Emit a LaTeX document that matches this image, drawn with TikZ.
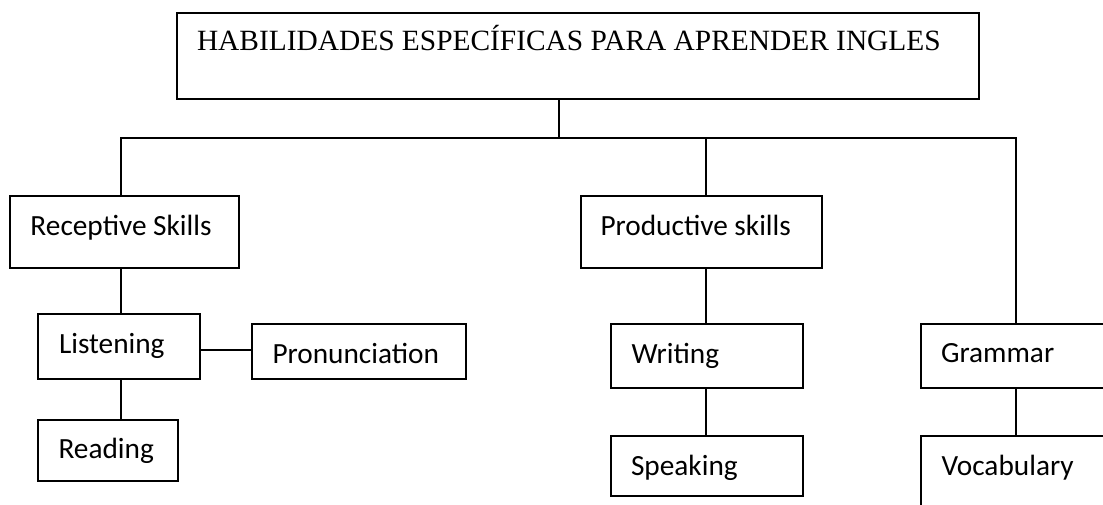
\documentclass[tikz,border=0pt]{standalone}
\usepackage{fontspec}
\setmainfont{Liberation Serif}
\newfontfamily\calibrifont{Carlito}
\begin{document}
\begin{tikzpicture}[x=1pt,y=-1pt,
  box/.style={draw=black, line width=1.4pt, rectangle, inner sep=0pt, outer sep=0pt, anchor=north west},
  lbl/.style={anchor=base west, inner sep=0pt, outer sep=0pt, font=\calibrifont\fontsize{29.3}{34}\selectfont, text=black},
  ttl/.style={anchor=base west, inner sep=0pt, outer sep=0pt, font=\fontsize{29.4}{34}\selectfont, text=black},
  conn/.style={draw=black, line width=1.4pt}]
\useasboundingbox (0,0) rectangle (1103,504);
\clip (0,0) rectangle (1103,504);
\fill[white] (0,0) rectangle (1103,504);
% boxes
\node[box, line width=1.8pt, minimum width=802pt, minimum height=86pt] (top) at (177,13) {};
\node[box, minimum width=229pt, minimum height=72pt] (rec) at (10,196) {};
\node[box, minimum width=162pt, minimum height=65pt] (lis) at (38,314) {};
\node[box, minimum width=214pt, minimum height=55pt] (pro) at (252,324) {};
\node[box, minimum width=140pt, minimum height=61pt] (rea) at (38,420) {};
\node[box, minimum width=241pt, minimum height=72pt] (prd) at (581,196) {};
\node[box, minimum width=192pt, minimum height=64pt] (wri) at (611,324) {};
\node[box, minimum width=192pt, minimum height=60pt] (spk) at (611,436) {};
\node[box, minimum width=200pt, minimum height=64pt] (gra) at (921,324) {};
\node[box, minimum width=200pt, minimum height=90pt] (voc) at (921,436) {};
% texts
\node[ttl] (ttop) at (197,50.5) {HABILIDADES ESPECÍFICAS PARA APRENDER INGLES};
\node[lbl] (trec) at (30.5,235) {Receptive Skills};
\node[lbl] (tlis) at (59,353) {Listening};
\node[lbl] (tpro) at (272.5,363) {Pronunciation};
\node[lbl] (trea) at (58.5,458) {Reading};
\node[lbl] (tprd) at (600.5,235) {Productive skills};
\node[lbl] (twri) at (631.5,363) {Writing};
\node[lbl] (tspk) at (631,475) {Speaking};
\node[lbl] (tgra) at (941,362) {Grammar};
\node[lbl] (tvoc) at (941.5,475) {Vocabulary};
% connectors
\coordinate (j) at (559,138);
\coordinate (gx) at (1016,138);
\coordinate (rx) at (121,138);
\coordinate (px) at (706,138);
\draw[conn] (top.south -| j) -- (j);
\draw[conn] (rx |- rec.north) -- (rx) -- (gx) -- (gx |- gra.north);
\draw[conn] (px) -- (px |- prd.north);
\draw[conn] (rx |- rec.south) -- (rx |- lis.north);
\draw[conn] (rx |- lis.south) -- (rx |- rea.north);
\draw[conn] (lis.east |- 0,350) -- (pro.west |- 0,350);
\draw[conn] (px |- prd.south) -- (px |- wri.north);
\draw[conn] (px |- wri.south) -- (px |- spk.north);
\draw[conn] (gx |- gra.south) -- (gx |- voc.north);
\end{tikzpicture}
\end{document}
